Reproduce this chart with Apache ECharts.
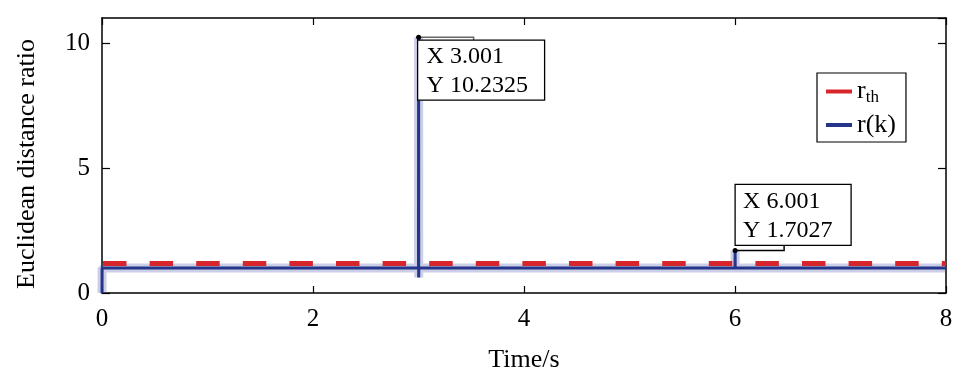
<!DOCTYPE html>
<html><head><meta charset="utf-8">
<script src="https://cdn.jsdelivr.net/npm/echarts@6/dist/echarts.min.js"></script>
<style>html,body{margin:0;padding:0;background:#fff}#c{width:970px;height:388px}</style>
</head><body><div id="c"></div>
<script>
// ---- data ----
var xTicks = [0, 2, 4, 6, 8];
var yTicks = [0, 5, 10];
var rthTime = [0, 8];
var rthValue = [1.18, 1.18];
var rkTime  = [0, 0.001, 3.0, 3.001, 3.002, 3.003, 6.0, 6.001, 6.002, 8];
var rkValue = [0, 1.0,   1.0, 10.2325, 0.62, 1.0,  1.0, 1.7027, 1.0, 1.0];
var tip1 = [3.001, 10.2325];
var tip2 = [6.001, 1.7027];
var tipLabels = [['X 3.001', 'Y 10.2325'], ['X 6.001', 'Y 1.7027']];

var FONT = "'Liberation Serif','Times New Roman',serif";
function pairs(t, v) { return t.map(function (x, i) { return [x, v[i]]; }); }
var rk = pairs(rkTime, rkValue);
var rth = pairs(rthTime, rthValue);

var chart = echarts.init(document.getElementById('c'), null, {renderer: 'canvas'});
function aLine() { return {show: true, onZero: false, lineStyle: {color: '#000', width: 1.5}}; }
function tick(len) { return {show: true, inside: true, length: len, lineStyle: {color: '#000', width: 1.2}}; }
var option = {
  animation: false,
  backgroundColor: '#fff',
  grid: {left: 102, right: 24, top: 18, bottom: 95},
  xAxis: [{
    type: 'value', min: 0, max: 8, interval: 2, position: 'bottom',
    axisLine: aLine(), splitLine: {show: false}, axisTick: tick(7),
    axisLabel: {color: '#000', fontFamily: FONT, fontSize: 25, margin: 14},
    name: 'Time/s', nameLocation: 'middle', nameGap: 54,
    nameTextStyle: {color: '#000', fontFamily: FONT, fontSize: 26}
  }, {
    type: 'value', min: 0, max: 8, interval: 2, position: 'top',
    axisLine: aLine(), splitLine: {show: false}, axisTick: tick(7),
    axisLabel: {show: false}
  }],
  yAxis: [{
    type: 'value', min: 0, max: 11, interval: 5, position: 'left',
    axisLine: aLine(), splitLine: {show: false}, axisTick: tick(8),
    axisLabel: {color: '#000', fontFamily: FONT, fontSize: 25, margin: 12, showMaxLabel: false},
    name: 'Euclidean distance ratio', nameLocation: 'middle', nameGap: 62,
    nameTextStyle: {color: '#000', fontFamily: FONT, fontSize: 26, padding: [0, 17, 0, 0]}
  }, {
    type: 'value', min: 0, max: 11, interval: 5, position: 'right',
    axisLine: aLine(), splitLine: {show: false}, axisTick: tick(8),
    axisLabel: {show: false}
  }],
  legend: {
    data: ['rth', 'r(k)'], orient: 'vertical', left: 817, top: 73,
    padding: [4, 10, 4, 9], itemWidth: 26, itemHeight: 4, itemGap: 6,
    icon: 'rect', borderColor: '#000', borderWidth: 1.2, backgroundColor: '#fff',
    selectedMode: false,
    formatter: function (n) { return n === 'rth' ? '{r|r}{s|th}' : '{r|r(k)}'; },
    textStyle: {
      color: '#000', fontFamily: FONT,
      rich: {
        r: {fontSize: 26, fontFamily: FONT, color: '#000', lineHeight: 28},
        s: {fontSize: 17, fontFamily: FONT, color: '#000', lineHeight: 28, padding: [12, 0, 0, 0]}
      }
    }
  },
  series: [{
    name: 'halo', type: 'line', data: rk, showSymbol: false, silent: true, z: 1,
    lineStyle: {color: 'rgba(70,80,170,0.28)', width: 9}
  }, {
    name: 'rth', type: 'line', data: rth, showSymbol: false, z: 2,
    itemStyle: {color: '#d7262b'},
    lineStyle: {color: '#d7262b', width: 5, type: [23.5, 23.1], dashOffset: -1}
  }, {
    name: 'r(k)', type: 'line', data: rk, showSymbol: false, z: 3,
    itemStyle: {color: '#253589'},
    lineStyle: {color: '#253589', width: 3}
  }]
};
chart.setOption(option);

function drawTips() {
  var p1 = chart.convertToPixel({gridIndex: 0}, tip1);
  var p2 = chart.convertToPixel({gridIndex: 0}, tip2);
  var ts = {fontFamily: FONT, fontSize: 24, fill: '#000', lineHeight: 29};
  var els = [];
  els.push({type: 'polyline', z: 100, shape: {points: [[p1[0], p1[1]], [p1[0] + 55, p1[1]], [p1[0] + 55, p1[1] + 3]]},
    style: {stroke: '#666', lineWidth: 1.5, fill: null}});
  els.push({type: 'rect', z: 100, shape: {x: p1[0] - 1, y: p1[1] + 3, width: 127, height: 60},
    style: {fill: '#fff', stroke: '#000', lineWidth: 1.3}});
  els.push({type: 'text', z: 101, x: p1[0] + 8, y: p1[1] + 5,
    style: Object.assign({text: tipLabels[0].join('\n')}, ts)});
  els.push({type: 'circle', z: 102, shape: {cx: p1[0], cy: p1[1], r: 2.5}, style: {fill: '#000'}});
  els.push({type: 'polyline', z: 100, shape: {points: [[p2[0], p2[1]], [p2[0] + 49, p2[1]], [p2[0] + 49, p2[1] - 5]]},
    style: {stroke: '#000', lineWidth: 1.5, fill: null}});
  els.push({type: 'rect', z: 100, shape: {x: p2[0], y: p2[1] - 66, width: 116, height: 61},
    style: {fill: '#fff', stroke: '#000', lineWidth: 1.3}});
  els.push({type: 'text', z: 101, x: p2[0] + 8, y: p2[1] - 63,
    style: Object.assign({text: tipLabels[1].join('\n')}, ts)});
  els.push({type: 'circle', z: 102, shape: {cx: p2[0], cy: p2[1], r: 2.5}, style: {fill: '#000'}});
  chart.setOption({graphic: {elements: els}});
}
drawTips();
</script>
</body></html>
